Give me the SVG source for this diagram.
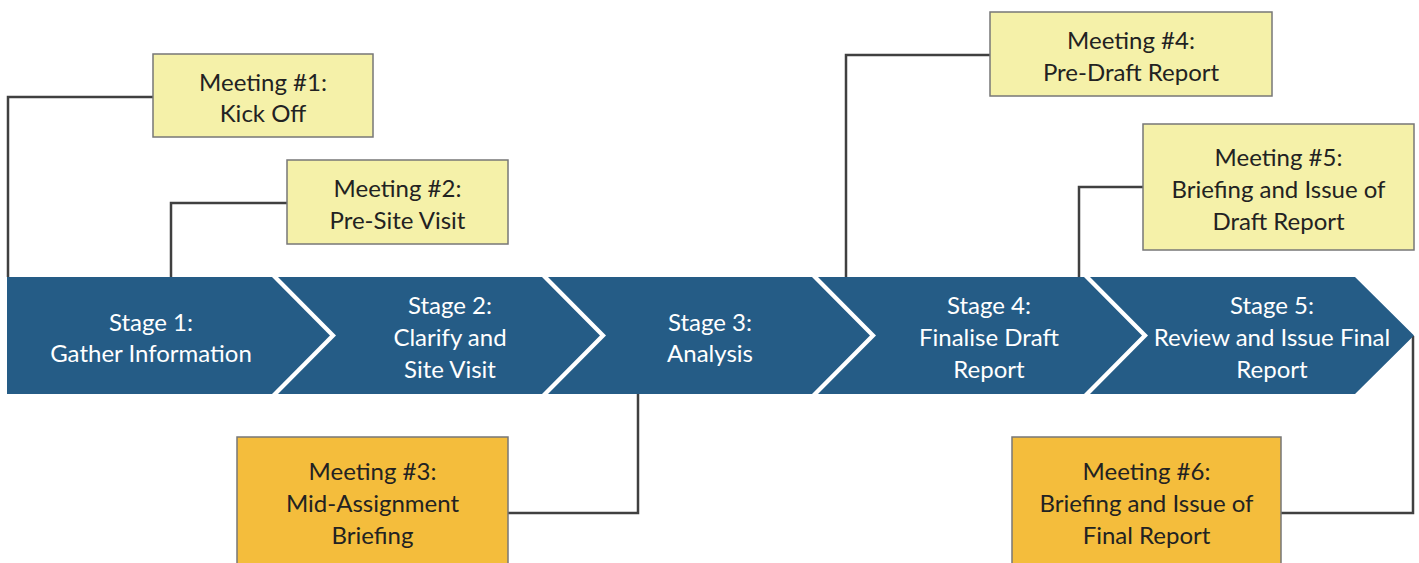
<svg xmlns="http://www.w3.org/2000/svg" width="1419" height="563" viewBox="0 0 1419 563">
<style>
.stage{fill:#255C86;}
.st{font-family:Lato,"Liberation Sans",sans-serif;font-size:24px;fill:#FFFFFF;text-anchor:middle;}
.mt{font-family:Lato,"Liberation Sans",sans-serif;font-size:24px;fill:#222222;text-anchor:middle;}
.light{fill:#F5F1A9;stroke:#777777;stroke-width:1.5;}
.dark{fill:#F4BD3C;stroke:#777777;stroke-width:1.5;}
.conn{fill:none;stroke:#404040;stroke-width:2.5;}
</style>
<rect width="1419" height="563" fill="#FFFFFF"/>
<g id="connectors">
<polyline class="conn" points="153,97 8,97 8,277"/>
<polyline class="conn" points="287,203 171,203 171,277"/>
<polyline class="conn" points="638,394 638,513 508,513"/>
<polyline class="conn" points="990,55 846,55 846,277"/>
<polyline class="conn" points="1143,187 1079,187 1079,277"/>
<polyline class="conn" points="1413,336 1413,513 1281,513"/>
</g>
<g id="stage1">
<polygon class="stage" points="7,277 272,277 330,335.5 272,394 7,394"/>
<text class="st" x="151" y="331">Stage 1:</text>
<text class="st" x="151" y="362">Gather Information</text>
</g>
<g id="stage2">
<polygon class="stage" points="278,277 542,277 600,335.5 542,394 278,394 336,335.5"/>
<text class="st" x="450" y="314">Stage 2:</text>
<text class="st" x="450" y="346">Clarify and</text>
<text class="st" x="450" y="378">Site Visit</text>
</g>
<g id="stage3">
<polygon class="stage" points="548,277 812,277 870,335.5 812,394 548,394 606,335.5"/>
<text class="st" x="710" y="331">Stage 3:</text>
<text class="st" x="710" y="362">Analysis</text>
</g>
<g id="stage4">
<polygon class="stage" points="818,277 1084,277 1142,335.5 1084,394 818,394 876,335.5"/>
<text class="st" x="989" y="314">Stage 4:</text>
<text class="st" x="989" y="346">Finalise Draft</text>
<text class="st" x="989" y="378">Report</text>
</g>
<g id="stage5">
<polygon class="stage" points="1090,277 1355,277 1414,335.5 1355,394 1090,394 1148,335.5"/>
<text class="st" x="1272" y="314">Stage 5:</text>
<text class="st" x="1272" y="346">Review and Issue Final</text>
<text class="st" x="1272" y="378">Report</text>
</g>
<g id="meeting1">
<rect class="light" x="153" y="54" width="220" height="83"/>
<text class="mt" x="263" y="91">Meeting #1:</text>
<text class="mt" x="263" y="122">Kick Off</text>
</g>
<g id="meeting2">
<rect class="light" x="287" y="160" width="221" height="84"/>
<text class="mt" x="397.5" y="197">Meeting #2:</text>
<text class="mt" x="397.5" y="229">Pre-Site Visit</text>
</g>
<g id="meeting3">
<rect class="dark" x="237" y="437" width="271" height="130"/>
<text class="mt" x="372.5" y="480">Meeting #3:</text>
<text class="mt" x="372.5" y="512">Mid-Assignment</text>
<text class="mt" x="372.5" y="544">Briefing</text>
</g>
<g id="meeting4">
<rect class="light" x="990" y="12" width="282" height="84"/>
<text class="mt" x="1131" y="49">Meeting #4:</text>
<text class="mt" x="1131" y="81">Pre-Draft Report</text>
</g>
<g id="meeting5">
<rect class="light" x="1143" y="124" width="271" height="126"/>
<text class="mt" x="1278.5" y="166">Meeting #5:</text>
<text class="mt" x="1278.5" y="198">Briefing and Issue of</text>
<text class="mt" x="1278.5" y="230">Draft Report</text>
</g>
<g id="meeting6">
<rect class="dark" x="1012" y="437" width="269" height="130"/>
<text class="mt" x="1146.5" y="480">Meeting #6:</text>
<text class="mt" x="1146.5" y="512">Briefing and Issue of</text>
<text class="mt" x="1146.5" y="544">Final Report</text>
</g>
</svg>
